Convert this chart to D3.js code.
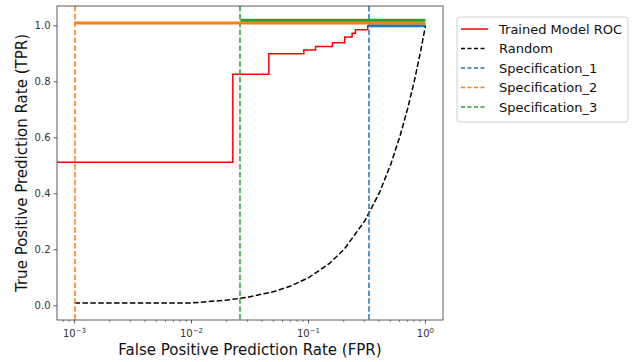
<!DOCTYPE html>
<html>
<head>
<meta charset="utf-8">
<script src="https://cdn.jsdelivr.net/npm/d3@7"></script>
<style>
  body { margin: 0; background: #fff; }
  svg { display: block; font-family: "DejaVu Sans", sans-serif; }
</style>
</head>
<body>
<svg id="chart" width="634" height="362"></svg>
<script>
// ---- data ----
const rocFPR = [0.0000001, 0.02255, 0.02255, 0.0458, 0.0458, 0.0912, 0.0912, 0.115, 0.115, 0.16, 0.16, 0.204, 0.204, 0.236, 0.236, 0.252, 0.252, 0.321, 0.321, 1.0];
const rocTPR = [0.513, 0.513, 0.827, 0.827, 0.9, 0.9, 0.914, 0.914, 0.926, 0.926, 0.94, 0.94, 0.96, 0.96, 0.974, 0.974, 0.986, 0.986, 1.0, 1.0];

const randomFPR = [0.001, 0.0101, 0.0202, 0.0303, 0.0505, 0.0707, 0.101, 0.1515, 0.202, 0.303, 0.404, 0.505, 0.606, 0.707, 0.808, 0.909, 1.0];
const randomTPR = [0.01, 0.0101, 0.0202, 0.0303, 0.0505, 0.0707, 0.101, 0.1515, 0.202, 0.303, 0.404, 0.505, 0.606, 0.707, 0.808, 0.909, 1.0];

const specNames = ["Specification_1", "Specification_2", "Specification_3"];
const specFPR = [0.332, 0.001, 0.0262];
const specTPR = [1.0, 1.01, 1.02];
const specColors = ["#1f77b4", "#ff7f0e", "#2ca02c"];

const yTicks = [0.0, 0.2, 0.4, 0.6, 0.8, 1.0];
const yTickLabels = ["0.0", "0.2", "0.4", "0.6", "0.8", "1.0"];
const xTicks = [0.001, 0.01, 0.1, 1];
const xTickExp = ["\u22123", "\u22122", "\u22121", "0"];

const legendLabels = ["Trained Model ROC", "Random", "Specification_1", "Specification_2", "Specification_3"];

// ---- layout ----
const L = 57, R = 443, T = 6, B = 320;
const svg = d3.select("#chart");

const x = d3.scaleLog().domain([Math.pow(10, -3.15), Math.pow(10, 0.15)]).range([L, R]);
const y = d3.scaleLinear().domain([-0.051, 1.071]).range([B, T]);

svg.append("defs").append("clipPath").attr("id", "clip")
  .append("rect").attr("x", L).attr("y", T).attr("width", R - L).attr("height", B - T);

const plot = svg.append("g").attr("clip-path", "url(#clip)");

const line = d3.line().x(d => x(d[0])).y(d => y(d[1]));
const DASH = "5.5,2.4";

// ROC
plot.append("path")
  .datum(rocFPR.map((f, i) => [Math.max(f, 1e-5), rocTPR[i]]))
  .attr("d", line).attr("fill", "none").attr("stroke", "#ff0000").attr("stroke-width", 1.5);

// Random
plot.append("path")
  .datum(randomFPR.map((f, i) => [f, randomTPR[i]]))
  .attr("d", line).attr("fill", "none").attr("stroke", "#000").attr("stroke-width", 1.5)
  .attr("stroke-dasharray", DASH);

// Specifications
specFPR.forEach((f, i) => {
  const px = Math.round(x(f));
  plot.append("line")
    .attr("x1", px).attr("x2", px).attr("y1", T).attr("y2", B)
    .attr("stroke", specColors[i]).attr("stroke-width", 1.5)
    .attr("stroke-dasharray", DASH);
});
specFPR.forEach((f, i) => {
  plot.append("path")
    .datum([[f, specTPR[i]], [1, specTPR[i]]])
    .attr("d", line).attr("fill", "none").attr("stroke", specColors[i]).attr("stroke-width", 3);
});

// ---- axes ----
const xAxis = svg.append("g").attr("transform", `translate(0,${B})`);
const minor = [];
for (let e = -4; e <= 0; e++) for (let m = 2; m <= 9; m++) {
  const v = m * Math.pow(10, e);
  if (v >= x.domain()[0] && v <= x.domain()[1]) minor.push(v);
}
xAxis.selectAll(".minor").data(minor).enter().append("line")
  .attr("x1", d => x(d)).attr("x2", d => x(d)).attr("y1", 0).attr("y2", 2)
  .attr("stroke", "#333").attr("stroke-width", 0.6);
xAxis.selectAll(".major").data(xTicks).enter().append("line")
  .attr("x1", d => x(d)).attr("x2", d => x(d)).attr("y1", 0).attr("y2", 3.5)
  .attr("stroke", "#333").attr("stroke-width", 0.8);
const xl = xAxis.selectAll(".xl").data(xTicks).enter().append("text")
  .attr("x", d => x(d)).attr("y", 17).attr("text-anchor", "middle")
  .attr("font-size", 10).attr("fill", "#333");
xl.append("tspan").text("10");
xl.append("tspan").attr("dy", -4).attr("font-size", 7).text((d, i) => xTickExp[i]);

const yAxis = svg.append("g").attr("transform", `translate(${L},0)`);
yAxis.selectAll("line").data(yTicks).enter().append("line")
  .attr("x1", -3.5).attr("x2", 0).attr("y1", d => y(d)).attr("y2", d => y(d))
  .attr("stroke", "#333").attr("stroke-width", 0.8);
yAxis.selectAll("text").data(yTicks).enter().append("text")
  .attr("x", -6.5).attr("y", d => y(d)).attr("dy", "0.35em").attr("text-anchor", "end")
  .attr("font-size", 10).attr("fill", "#333").text((d, i) => yTickLabels[i]);

// frame
svg.append("rect").attr("x", L).attr("y", T).attr("width", R - L).attr("height", B - T)
  .attr("fill", "none").attr("stroke", "#333").attr("stroke-width", 0.8);

// axis labels
svg.append("text").attr("x", (L + R) / 2).attr("y", 355).attr("text-anchor", "middle")
  .attr("font-size", 15).attr("fill", "#111").text("False Positive Prediction Rate (FPR)");
svg.append("text").attr("transform", `translate(27,${(T + B) / 2}) rotate(-90)`)
  .attr("text-anchor", "middle").attr("font-size", 15).attr("fill", "#111")
  .text("True Positive Prediction Rate (TPR)");

// ---- legend ----
const lg = svg.append("g");
lg.append("rect").attr("x", 457).attr("y", 17).attr("width", 171).attr("height", 105)
  .attr("rx", 3).attr("fill", "#fff").attr("fill-opacity", 0.8)
  .attr("stroke", "#d0d0d0").attr("stroke-width", 1);
const legColors = ["#ff0000", "#000", specColors[0], specColors[1], specColors[2]];
const legDash = [null, "4,2.5", "4,2.5", "4,2.5", "4,2.5"];
legendLabels.forEach((t, i) => {
  const cy = 29 + i * 19.5;
  lg.append("line").attr("x1", 461).attr("x2", i === 0 ? 488 : 485).attr("y1", cy).attr("y2", cy)
    .attr("stroke", legColors[i]).attr("stroke-width", 1.5)
    .attr("stroke-dasharray", legDash[i]);
  lg.append("text").attr("x", 499).attr("y", cy).attr("dy", "0.35em")
    .attr("font-size", 13).attr("fill", "#111").text(t);
});
</script>
</body>
</html>
